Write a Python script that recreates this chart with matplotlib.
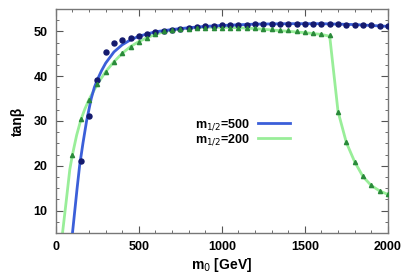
import matplotlib
matplotlib.use("Agg")
import matplotlib.pyplot as plt
from matplotlib.ticker import MultipleLocator

plt.rcParams['font.family'] = ['Liberation Sans', 'DejaVu Sans']

# m1/2 = 500 : points and fitted line
m0_500_pts = [150, 200, 250, 300, 350, 400, 450, 500, 550, 600, 650, 700, 750, 800,
              850, 900, 950, 1000, 1050, 1100, 1150, 1200, 1250, 1300, 1350, 1400,
              1450, 1500, 1550, 1600, 1650, 1700, 1750, 1800, 1850, 1900, 1950, 2000]
tb_500_pts = [21.0, 31.0, 39.2, 45.3, 47.4, 48.1, 48.5, 49.0, 49.5, 49.8, 50.1, 50.3,
              50.5, 50.7, 50.9, 51.1, 51.2, 51.3, 51.4, 51.5, 51.5, 51.6, 51.6, 51.7,
              51.7, 51.7, 51.7, 51.7, 51.7, 51.7, 51.6, 51.6, 51.5, 51.5, 51.4, 51.3,
              51.2, 51.1]
m0_500_line = [100, 114, 128, 143, 163, 185, 213, 232, 250, 275, 300, 350, 400, 450,
               500, 600, 700, 800, 900, 1000, 1200, 1400, 1600, 1800, 2000]
tb_500_line = [5.0, 10.0, 15.0, 20.0, 25.0, 30.0, 35.0, 37.5, 39.2, 41.2, 42.9, 45.4,
               47.0, 48.1, 48.9, 49.9, 50.4, 50.8, 51.1, 51.3, 51.6, 51.7, 51.7, 51.5,
               51.1]

# m1/2 = 200 : points and fitted line
m0_200_pts = [100, 150, 200, 250, 300, 350, 400, 450, 500, 550, 600, 650, 700, 750,
              800, 850, 900, 950, 1000, 1050, 1100, 1150, 1200, 1250, 1300, 1350, 1400,
              1450, 1500, 1550, 1600, 1650, 1700, 1750, 1800, 1850, 1900, 1950, 2000]
tb_200_pts = [22.3, 30.4, 34.7, 38.2, 41.0, 43.2, 45.1, 46.6, 47.7, 48.6, 49.4, 50.0,
              50.3, 50.5, 50.6, 50.7, 50.8, 50.8, 50.8, 50.8, 50.8, 50.7, 50.7, 50.6,
              50.5, 50.4, 50.3, 50.1, 49.9, 49.7, 49.5, 49.1, 32.1, 25.2, 20.9, 17.6,
              15.6, 14.4, 13.6]
m0_200_line = [40, 62, 84, 100, 125, 150, 175, 200, 250, 300, 350, 400, 450, 500, 550,
               600, 650, 700, 800, 900, 1000, 1100, 1200, 1300, 1400, 1500, 1600, 1650,
               1700, 1750, 1800, 1850, 1900, 1950, 2000]
tb_200_line = [5.0, 12.0, 19.2, 22.5, 26.8, 30.2, 32.7, 34.8, 38.2, 41.0, 43.2, 45.1,
               46.6, 47.7, 48.6, 49.3, 49.9, 50.3, 50.7, 50.9, 50.9, 50.8, 50.6, 50.3,
               50.0, 49.7, 49.3, 48.9, 32.1, 25.2, 20.9, 17.6, 15.6, 14.4, 13.6]

labels = ["m$_{1/2}$=500", "m$_{1/2}$=200"]

fig = plt.figure(figsize=(4.17, 2.78), dpi=100)
ax = fig.add_axes([0.134, 0.162, 0.796, 0.806])

l1, = ax.plot(m0_500_line, tb_500_line, color='#3b5fd9', lw=2.0, zorder=3)
l2, = ax.plot(m0_200_line, tb_200_line, color='#99ee99', lw=2.0, zorder=2)
ax.plot(m0_500_pts, tb_500_pts, 'o', color='#141a6e', ms=3.6, zorder=4)
ax.plot(m0_200_pts, tb_200_pts, '^', color='#2a8a3a', ms=3.0, zorder=4)

ax.set_xlim(0, 2000)
ax.set_ylim(5, 55)
ax.xaxis.set_major_locator(MultipleLocator(500))
ax.xaxis.set_minor_locator(MultipleLocator(100))
ax.yaxis.set_major_locator(MultipleLocator(10))
ax.yaxis.set_minor_locator(MultipleLocator(2.5))
ax.set_yticks([10, 20, 30, 40, 50])
ax.tick_params(which='both', direction='in', top=True, right=True, color='#555555')
ax.tick_params(which='major', length=5, labelsize=9, pad=6)
ax.tick_params(which='minor', length=2.5)
for lab in ax.get_xticklabels() + ax.get_yticklabels():
    lab.set_fontweight('bold')
for s in ax.spines.values():
    s.set_color('#777777')
    s.set_linewidth(1.0)

ax.set_xlabel("m$_0$ [GeV]", fontsize=10, fontweight='bold', labelpad=2)
ax.set_ylabel("tan\u03b2", fontsize=10, fontweight='bold', labelpad=6)

ax.legend([l1, l2], labels, loc='center right', bbox_to_anchor=(0.74, 0.45),
          frameon=False, markerfirst=False, handlelength=2.6,
          labelspacing=0.0, handletextpad=0.6, prop={'weight': 'bold', 'size': 9})

fig.savefig("out.png", dpi=100)
